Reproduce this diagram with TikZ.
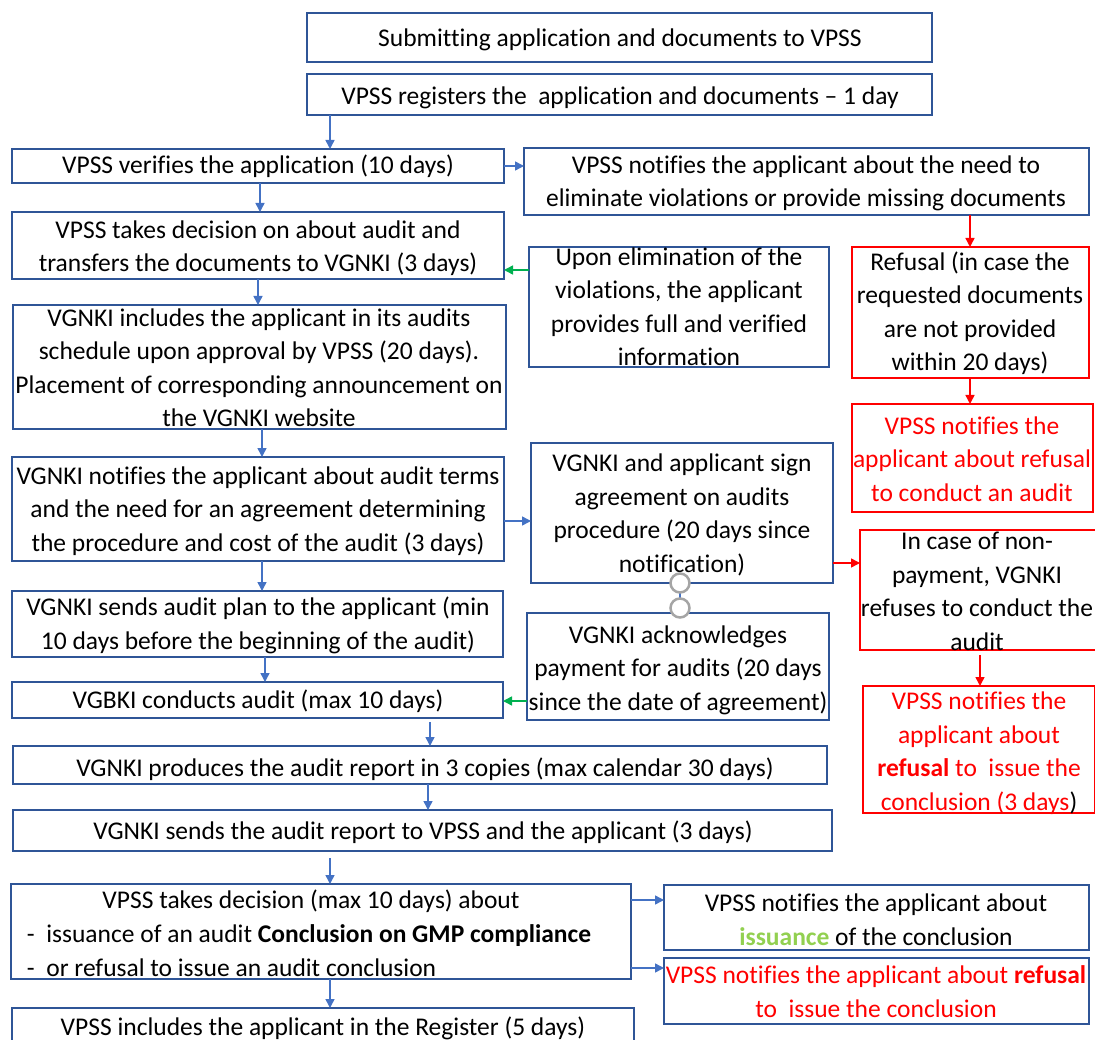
\documentclass[tikz,border=0pt]{standalone}
\usepackage{fontspec}
\setmainfont{Carlito}[Ligatures={NoCommon,NoContextual,NoRequired},Contextuals=NoAlternate]
\usetikzlibrary{arrows.meta}
\definecolor{bbox}{HTML}{2F5597}
\definecolor{barr}{HTML}{4472C4}
\definecolor{rr}{HTML}{FF0000}
\definecolor{gg}{HTML}{00B050}
\definecolor{lg}{HTML}{92D050}
\definecolor{cgray}{HTML}{A5A5A5}
\newcommand\bx[6]{\node[#1, minimum width={(#5)-(#3)}, minimum height={(#6)-(#4)}] (#2) at ({((#3)+(#5))/2},{((#4)+(#6))/2}) {};}
\begin{document}
\begin{tikzpicture}[x=1pt,y=-1pt,
  box/.style={draw=bbox, line width=1.6pt, inner sep=0pt, outer sep=0pt},
  rbox/.style={draw=rr, line width=1.4pt, inner sep=0pt, outer sep=0pt},
  txt/.style={inner sep=0pt, outer sep=0pt, align=center, anchor=base, font=\fontsize{25.5}{33.5}\selectfont},
  arr/.style={draw=barr, line width=1.5pt, -{Triangle[length=9pt,width=9pt]}},
  rarr/.style={arr, draw=rr},
  garr/.style={arr, draw=gg},
  ring/.style={circle, draw=cgray, line width=2.5pt, fill=white, minimum size=19pt, inner sep=0pt}
]
\useasboundingbox (0,0) rectangle (1095,1040);

% boxes
\bx{box}{submit}{307}{13}{932}{62}
\bx{box}{reg}{307}{74}{932}{115}
\bx{box}{vfy}{12}{149}{504}{183}
\bx{box}{elim}{524}{148}{1089}{215}
\bx{box}{dec}{12}{212}{504}{279}
\bx{box}{upon}{529}{247}{829}{367}
\bx{rbox}{refu}{852}{247}{1089}{378}
\bx{box}{incl}{13}{305}{506}{429}
\bx{rbox}{rnot}{852}{404}{1093}{512}
\bx{box}{terms}{12}{457}{504}{561}
\bx{box}{sign}{531}{443}{833}{583}
\bx{rbox}{nonpay}{860}{530}{1100}{650}
\bx{box}{plan}{12}{591}{503}{657}
\bx{box}{ack}{527}{613}{829}{720}
\bx{box}{cond}{12}{682}{503}{718}
\bx{rbox}{rthree}{863}{686}{1095}{813}
\bx{box}{prod}{13}{746}{827}{784}
\bx{box}{sendrep}{13}{810}{832}{851}
\bx{box}{dectwo}{11}{884}{631}{979}
\bx{box}{iss}{664}{885}{1089}{950}
\bx{box}{refi}{664}{958}{1089}{1024}
\bx{box}{regi}{12}{1008}{634}{1050}

% texts (anchor base = baseline of last line)
\node[txt] (t1) at (620,47) {Submitting application and documents to VPSS};
\node[txt] (t2) at (620,105) {VPSS registers the\ \ application and documents – 1 day};
\node[txt] (t3) at (258,174) {VPSS verifies the application (10 days)};
\node[txt] (t4) at (806,207) {VPSS notifies the applicant about the need to\\eliminate violations or provide missing documents};
\node[txt] (t5) at (258,272) {VPSS takes decision on about audit and\\transfers the documents to VGNKI (3 days)};
\node[txt] (t6) at (679,366) {Upon elimination of the\\violations, the applicant\\provides full and verified\\information};
\node[txt] (t7) at (970,371) {Refusal (in case the\\requested documents\\are not provided\\within 20 days)};
\node[txt] (t8) at (259,427) {VGNKI includes the applicant in its audits\\schedule upon approval by VPSS (20 days).\\Placement of corresponding announcement on\\the VGNKI website};
\node[txt, text=rr] (t9) at (972,501) {VPSS notifies the\\applicant about refusal\\to conduct an audit};
\node[txt] (t10) at (258,551) {VGNKI notifies the applicant about audit terms\\and the need for an agreement determining\\the procedure and cost of the audit (3 days)};
\node[txt] (t11) at (682,572) {VGNKI and applicant sign\\agreement on audits\\procedure (20 days since\\notification)};
\node[txt] (t12) at (977,650) {In case of non-\\payment, VGNKI\\refuses to conduct the\\audit};
\node[txt] (t13) at (258,649) {VGNKI sends audit plan to the applicant (min\\10 days before the beginning of the audit)};
\node[txt] (t14) at (678,710) {VGNKI acknowledges\\payment for audits (20 days\\since the date of agreement)};
\node[txt] (t15) at (258,708) {VGBKI conducts audit (max 10 days)};
\node[txt, text=rr] (t16) at (979,810) {VPSS notifies the\\applicant about\\\textbf{refusal} to\ \ issue the\\conclusion (3 days\textcolor{black}{)}};
\node[txt] (t17) at (425,776) {VGNKI produces the audit report in 3 copies (max calendar 30 days)};
\node[txt] (t18) at (423,839) {VGNKI sends the audit report to VPSS and the applicant (3 days)};
\node[txt] (t19a) at (311,908) {VPSS takes decision (max 10 days) about};
\node[txt, align=left, anchor=base west] (t19b) at (27,976) {-\ \ issuance of an audit \textbf{Conclusion on GMP compliance}\\-\ \ or refusal to issue an audit conclusion};
\node[txt] (t20) at (876,945) {VPSS notifies the applicant about\\\textcolor{lg}{\textbf{issuance}} of the conclusion};
\node[txt, text=rr] (t21) at (876,1017) {VPSS notifies the applicant about \textbf{refusal}\\to\ \ issue the conclusion};
\node[txt] (t22) at (323,1035) {VPSS includes the applicant in the Register (5 days)};

% connectors
\draw[arr] (reg.south -| 330,0) -- (vfy.north -| 330,0);
\draw[arr] (vfy.east) -- (vfy.east -| elim.west);
\draw[arr] (vfy.south -| 260,0) -- (dec.north -| 260,0);
\draw[rarr] (elim.south -| 970,0) -- (refu.north -| 970,0);
\draw[garr] (upon.west |- 0,270) -- (dec.east |- 0,270);
\draw[arr] (dec.south -| 258,0) -- (incl.north -| 258,0);
\draw[rarr] (refu.south -| 970,0) -- (rnot.north -| 970,0);
\draw[arr] (incl.south -| 262,0) -- (terms.north -| 262,0);
\draw[arr] (terms.east |- 0,521) -- (sign.west |- 0,521);
\draw[rarr] (sign.east |- 0,563) -- (nonpay.west |- 0,563);
\draw[arr] (terms.south -| 262,0) -- (plan.north -| 262,0);
\draw[arr] (plan.south -| 265,0) -- (cond.north -| 265,0);
\draw[garr] (ack.west |- 0,701) -- (cond.east |- 0,701);
\draw[rarr, shorten <=5pt] (nonpay.south -| 980,0) -- (rthree.north -| 980,0);
\draw[arr, shorten <=4pt] (cond.south -| 430,0) -- (prod.north -| 430,0);
\draw[arr] (prod.south -| 428,0) -- (sendrep.north -| 428,0);
\draw[arr, shorten <=7pt] (sendrep.south -| 330,0) -- (dectwo.north -| 330,0);
\draw[arr] (dectwo.east |- 0,900) -- (iss.west |- 0,900);
\draw[arr] (dectwo.east |- 0,968) -- (refi.west |- 0,968);
\draw[arr] (dectwo.south -| 330,0) -- (regi.north -| 330,0);
\draw[draw=barr, line width=1.5pt] (sign.south -| 680,0) -- (ack.north -| 680,0);
\node[ring] (c1) at (680,583) {};
\node[ring] (c2) at (680,608) {};
\end{tikzpicture}
\end{document}
